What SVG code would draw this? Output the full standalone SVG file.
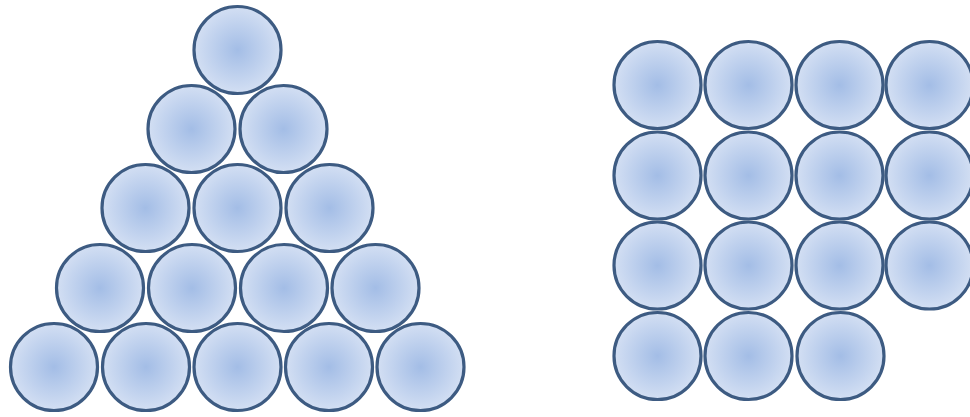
<svg xmlns="http://www.w3.org/2000/svg" width="970" height="417" viewBox="0 0 970 417">
<defs>
<radialGradient id="g" cx="0.5" cy="0.5" r="0.5">
<stop offset="0" stop-color="#a3bde6"/>
<stop offset="1" stop-color="#d3dff3"/>
</radialGradient>
<style>
.c{fill:url(#g);stroke:#3d5b82;stroke-width:3.2}
</style>
</defs>
<rect width="970" height="417" fill="#ffffff"/>
<g id="triangle">
<circle id="t1" class="c" cx="237.5" cy="50" r="43.5"/>
<circle id="t2" class="c" cx="191.5" cy="129" r="43.5"/>
<circle id="t3" class="c" cx="283.5" cy="129" r="43.5"/>
<circle id="t4" class="c" cx="145.5" cy="208" r="43.5"/>
<circle id="t5" class="c" cx="237.5" cy="208" r="43.5"/>
<circle id="t6" class="c" cx="329.5" cy="208" r="43.5"/>
<circle id="t7" class="c" cx="100" cy="288" r="43.5"/>
<circle id="t8" class="c" cx="192" cy="288" r="43.5"/>
<circle id="t9" class="c" cx="284" cy="288" r="43.5"/>
<circle id="t10" class="c" cx="375.5" cy="288" r="43.5"/>
<circle id="t11" class="c" cx="54" cy="367" r="43.5"/>
<circle id="t12" class="c" cx="146" cy="367" r="43.5"/>
<circle id="t13" class="c" cx="237.5" cy="367" r="43.5"/>
<circle id="t14" class="c" cx="329" cy="367" r="43.5"/>
<circle id="t15" class="c" cx="420.5" cy="367" r="43.5"/>
</g>
<g id="grid">
<circle id="s1" class="c" cx="657.5" cy="85" r="43.5"/>
<circle id="s2" class="c" cx="748.5" cy="85" r="43.5"/>
<circle id="s3" class="c" cx="839.5" cy="85" r="43.5"/>
<circle id="s4" class="c" cx="929.5" cy="85" r="43.5"/>
<circle id="s5" class="c" cx="657.5" cy="175.5" r="43.5"/>
<circle id="s6" class="c" cx="748.5" cy="175.5" r="43.5"/>
<circle id="s7" class="c" cx="839.5" cy="175.5" r="43.5"/>
<circle id="s8" class="c" cx="929.5" cy="175.5" r="43.5"/>
<circle id="s9" class="c" cx="657.5" cy="265.5" r="43.5"/>
<circle id="s10" class="c" cx="748.5" cy="265.5" r="43.5"/>
<circle id="s11" class="c" cx="839.5" cy="265.5" r="43.5"/>
<circle id="s12" class="c" cx="929.5" cy="265.5" r="43.5"/>
<circle id="s13" class="c" cx="657.5" cy="356" r="43.5"/>
<circle id="s14" class="c" cx="748.5" cy="356" r="43.5"/>
<circle id="s15" class="c" cx="840.5" cy="356" r="43.5"/>
</g>
</svg>
